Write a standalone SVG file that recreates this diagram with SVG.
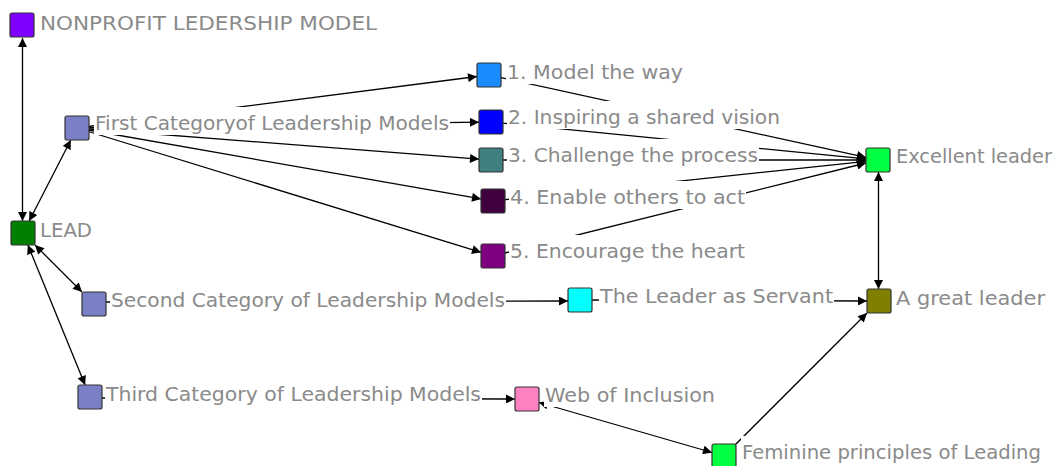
<svg xmlns="http://www.w3.org/2000/svg" width="1059" height="466" viewBox="0 0 1059 466">
<style>
.n{stroke:#333;stroke-width:1.2}
.bg{fill:#fff}
.t{font-family:"DejaVu Sans","Liberation Sans",sans-serif;font-size:20px;fill:#8a8a8a}
.e{stroke:#000;stroke-width:1.3;fill:none}
.a{marker-end:url(#ah)}
.b{marker-start:url(#ah);marker-end:url(#ah)}
</style>
<defs>
<marker id="ah" viewBox="0 0 10 10" refX="10" refY="5" markerWidth="10" markerHeight="9" markerUnits="userSpaceOnUse" orient="auto-start-reverse"><path d="M0,0 L10,5 L0,10 z" fill="#000"/></marker>
</defs>
<rect width="1059" height="466" fill="#fff"/>
<g id="connectors">
<line class="e b" x1="22.5" y1="38" x2="22.5" y2="221"/>
<line class="e b" x1="29.2" y1="221" x2="70.8" y2="140"/>
<line class="e b" x1="35" y1="245" x2="82" y2="292"/>
<line class="e b" x1="27.9" y1="245" x2="85.1" y2="385"/>
<line class="e a" x1="77" y1="128" x2="477" y2="76.5"/>
<line class="e a" x1="77" y1="128" x2="479" y2="122.2"/>
<line class="e a" x1="77" y1="128" x2="479" y2="159.1"/>
<line class="e a" x1="77" y1="128" x2="481" y2="198.9"/>
<line class="e a" x1="77" y1="128" x2="481" y2="252.3"/>
<line class="e a" x1="489" y1="75" x2="866" y2="157.4"/>
<line class="e a" x1="491" y1="122" x2="866" y2="158.8"/>
<line class="e a" x1="491" y1="160" x2="866" y2="160"/>
<line class="e a" x1="493" y1="201" x2="866" y2="161.3"/>
<line class="e a" x1="493" y1="256" x2="866" y2="163"/>
<line class="e b" x1="878.5" y1="172" x2="878.5" y2="289"/>
<line class="e a" x1="94" y1="302" x2="568" y2="301"/>
<line class="e a" x1="580" y1="300" x2="867" y2="301"/>
<line class="e a" x1="90" y1="398" x2="515" y2="399"/>
<line class="e b" x1="539" y1="402.5" x2="712" y2="452.5"/>
<line class="e a" x1="724" y1="456" x2="867" y2="313"/>
</g>
<g id="n-nonprofit"><rect class="n" x="10" y="13" width="24" height="24" rx="2" fill="#8000ff"/><rect class="bg" x="39" y="7" width="340" height="28"/><text class="t" x="40" y="30" textLength="337" lengthAdjust="spacingAndGlyphs">NONPROFIT LEDERSHIP MODEL</text></g>
<g id="n-first"><rect class="n" x="65" y="116" width="24" height="24" rx="2" fill="#7b7fc6"/><rect class="bg" x="94" y="107" width="356" height="28"/><text class="t" x="95" y="130" textLength="354" lengthAdjust="spacingAndGlyphs">First Categoryof Leadership Models</text></g>
<g id="n-lead"><rect class="n" x="11" y="221" width="24" height="24" rx="2" fill="#008000"/><rect class="bg" x="39" y="214" width="55" height="28"/><text class="t" x="40" y="237" textLength="52" lengthAdjust="spacingAndGlyphs">LEAD</text></g>
<g id="n-second"><rect class="n" x="82" y="292" width="24" height="24" rx="2" fill="#7b7fc6"/><rect class="bg" x="110" y="284" width="396" height="28"/><text class="t" x="111" y="307" textLength="394" lengthAdjust="spacingAndGlyphs">Second Category of Leadership Models</text></g>
<g id="n-third"><rect class="n" x="78" y="385" width="24" height="24" rx="2" fill="#7b7fc6"/><rect class="bg" x="105" y="378" width="377" height="28"/><text class="t" x="106" y="401" textLength="375" lengthAdjust="spacingAndGlyphs">Third Category of Leadership Models</text></g>
<g id="n-1"><rect class="n" x="477" y="63" width="24" height="24" rx="2" fill="#1a8cff"/><rect class="bg" x="506" y="56" width="178" height="28"/><text class="t" x="507" y="79" textLength="176" lengthAdjust="spacingAndGlyphs">1. Model the way</text></g>
<g id="n-2"><rect class="n" x="479" y="110" width="24" height="24" rx="2" fill="#0000ff"/><rect class="bg" x="507" y="101" width="274" height="28"/><text class="t" x="508" y="124" textLength="272" lengthAdjust="spacingAndGlyphs">2. Inspiring a shared vision</text></g>
<g id="n-3"><rect class="n" x="479" y="148" width="24" height="24" rx="2" fill="#408080"/><rect class="bg" x="507" y="139" width="252" height="28"/><text class="t" x="508" y="162" textLength="250" lengthAdjust="spacingAndGlyphs">3. Challenge the process</text></g>
<g id="n-4"><rect class="n" x="481" y="189" width="24" height="24" rx="2" fill="#400040"/><rect class="bg" x="509" y="181" width="237" height="28"/><text class="t" x="510" y="204" textLength="235" lengthAdjust="spacingAndGlyphs">4. Enable others to act</text></g>
<g id="n-5"><rect class="n" x="481" y="244" width="24" height="24" rx="2" fill="#800080"/><rect class="bg" x="509" y="235" width="237" height="28"/><text class="t" x="510" y="258" textLength="235" lengthAdjust="spacingAndGlyphs">5. Encourage the heart</text></g>
<g id="n-excellent"><rect class="n" x="866" y="148" width="24" height="24" rx="2" fill="#00ff40"/><rect class="bg" x="895" y="140" width="158" height="28"/><text class="t" x="896" y="163" textLength="156" lengthAdjust="spacingAndGlyphs">Excellent leader</text></g>
<g id="n-great"><rect class="n" x="867" y="289" width="24" height="24" rx="2" fill="#808000"/><rect class="bg" x="895" y="282" width="151" height="28"/><text class="t" x="896" y="305" textLength="149" lengthAdjust="spacingAndGlyphs">A great leader</text></g>
<g id="n-servant"><rect class="n" x="568" y="288" width="24" height="24" rx="2" fill="#00ffff"/><rect class="bg" x="599" y="280" width="235" height="28"/><text class="t" x="600" y="303" textLength="233" lengthAdjust="spacingAndGlyphs">The Leader as Servant</text></g>
<g id="n-web"><rect class="n" x="515" y="387" width="24" height="24" rx="2" fill="#ff80c0"/><rect class="bg" x="544" y="379" width="172" height="28"/><text class="t" x="545" y="402" textLength="170" lengthAdjust="spacingAndGlyphs">Web of Inclusion</text></g>
<g id="n-feminine"><rect class="n" x="712" y="444" width="24" height="24" rx="2" fill="#00ff40"/><rect class="bg" x="741" y="436" width="301" height="28"/><text class="t" x="742" y="459" textLength="299" lengthAdjust="spacingAndGlyphs">Feminine principles of Leading</text></g>
</svg>
